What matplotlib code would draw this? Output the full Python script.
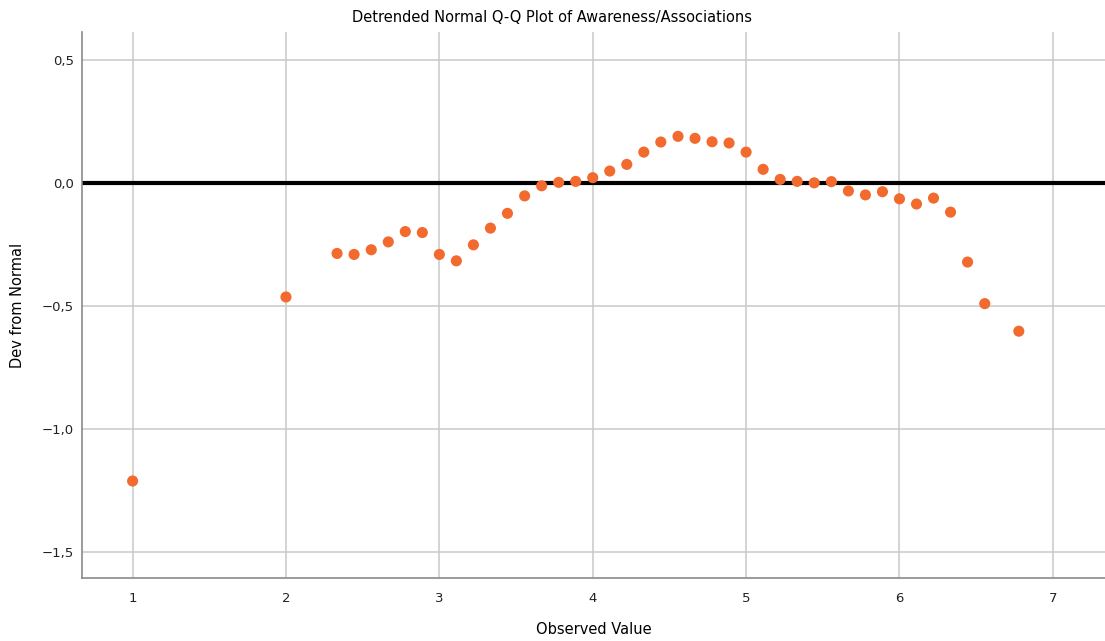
"""
Detrended normal Q-Q plot of Awareness/Associations (SPSS style).
"""
import matplotlib
matplotlib.use("Agg")
import matplotlib.pyplot as plt
from matplotlib.ticker import FuncFormatter

# observed values (steps of 1/9) and deviation from normal
observed = [1.0, 2.0, 2.333, 2.444, 2.556, 2.667, 2.778, 2.889, 3.0, 3.111,
            3.222, 3.333, 3.444, 3.556, 3.667, 3.778, 3.889, 4.0, 4.111, 4.222,
            4.333, 4.444, 4.556, 4.667, 4.778, 4.889, 5.0, 5.111, 5.222, 5.333,
            5.444, 5.556, 5.667, 5.778, 5.889, 6.0, 6.111, 6.222, 6.333, 6.444,
            6.556, 6.778]
dev = [-1.211, -0.463, -0.286, -0.290, -0.271, -0.239, -0.197, -0.201, -0.290, -0.316,
       -0.251, -0.183, -0.123, -0.052, -0.011, 0.003, 0.007, 0.022, 0.049, 0.076,
       0.126, 0.167, 0.190, 0.182, 0.168, 0.163, 0.126, 0.056, 0.015, 0.007,
       0.001, 0.006, -0.032, -0.048, -0.035, -0.064, -0.085, -0.061, -0.118, -0.321,
       -0.490, -0.602]

x_ticks = [1, 2, 3, 4, 5, 6, 7]
y_ticks = [-1.5, -1.0, -0.5, 0.0, 0.5]

DOT = "#F26A2E"
GRID = "#C9C9C9"
SPINE = "#8A8A8A"


def main():
    fig = plt.figure(figsize=(11.05, 6.41), dpi=100)
    ax = fig.add_axes([0.0742, 0.098, 0.9258, 0.852])

    ax.set_xlim(0.67, 7.34)
    ax.set_ylim(-1.606, 0.614)
    ax.set_xticks(x_ticks)
    ax.set_yticks(y_ticks)
    ax.yaxis.set_major_formatter(FuncFormatter(lambda v, _: f"{v:.1f}".replace(".", ",").replace("-", "\u2212")))

    ax.grid(True, color=GRID, linewidth=1.1, zorder=0)
    ax.set_axisbelow(True)
    ax.axhline(0, color="black", linewidth=3.0, zorder=2)
    ax.scatter(observed, dev, s=64, color=DOT, edgecolor="none", zorder=3)

    for s in ("top", "right"):
        ax.spines[s].set_visible(False)
    for s in ("left", "bottom"):
        ax.spines[s].set_color(SPINE)
        ax.spines[s].set_linewidth(1.2)
    ax.tick_params(length=0, labelsize=9.5, colors="#222222")
    ax.tick_params(axis="y", pad=6)
    ax.tick_params(axis="x", pad=10)

    ax.set_xlabel("Observed Value", fontsize=10.5, labelpad=12)
    ax.set_ylabel("Dev from Normal", fontsize=10.5, labelpad=12)
    fig.text(0.5, 0.972, "Detrended Normal Q-Q Plot of Awareness/Associations",
             ha="center", va="center", fontsize=10.5)

    fig.savefig("out.png", facecolor="white")
    plt.close(fig)


if __name__ == "__main__":
    main()
